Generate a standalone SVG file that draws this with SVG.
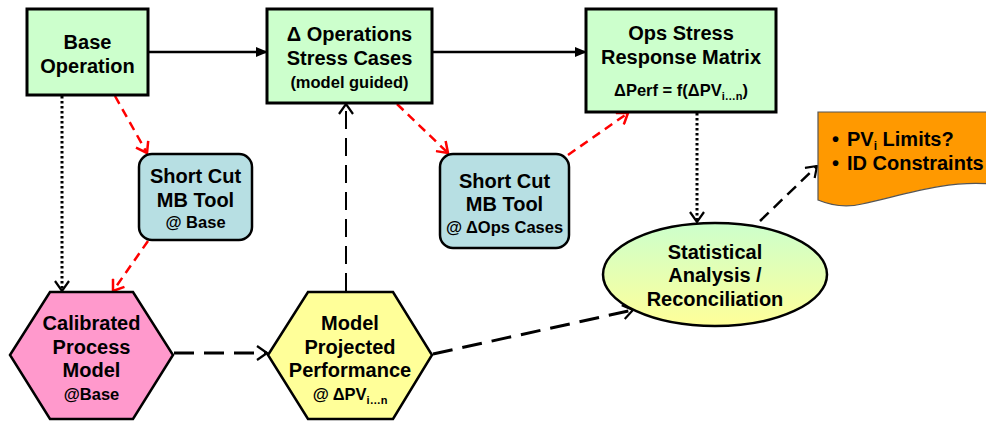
<svg xmlns="http://www.w3.org/2000/svg" width="986" height="423" viewBox="0 0 986 423">
<style>
text{font-family:"Liberation Sans",Arial,sans-serif;font-weight:bold;fill:#000;text-anchor:middle}
.m{font-size:20px}
.s{font-size:16.5px}
.box{fill:#ccffcc;stroke:#000;stroke-width:3}
.sc{fill:#b7dfe3;stroke:#000;stroke-width:2.5}
.hex{stroke:#000;stroke-width:2.5}
.solid{stroke:#000;stroke-width:2.5;fill:none}
.dot{stroke:#000;stroke-width:3;fill:none;stroke-dasharray:2.5 2.5}
.red{stroke:#ff0000;stroke-width:2.5;fill:none;stroke-dasharray:9 6}
.dash{stroke:#000;stroke-width:3;fill:none;stroke-dasharray:20 10}
.dash2{stroke:#000;stroke-width:2;fill:none;stroke-dasharray:18 9}
.dash3{stroke:#000;stroke-width:2.5;fill:none;stroke-dasharray:12 7}
</style>
<defs>
<linearGradient id="eg" x1="0" y1="0" x2="0" y2="1">
<stop offset="0" stop-color="#ccffcc"/>
<stop offset="1" stop-color="#ffff99"/>
</linearGradient>
<marker id="fill" viewBox="0 0 12 10" refX="11" refY="5" markerWidth="12" markerHeight="10" markerUnits="userSpaceOnUse" orient="auto">
<path d="M0,0 L12,5 L0,10 Z" fill="#000"/>
</marker>
<marker id="open" viewBox="0 0 12 16" refX="11" refY="8" markerWidth="12" markerHeight="16" markerUnits="userSpaceOnUse" orient="auto">
<path d="M1,1 L11,8 L1,15" fill="none" stroke="#000" stroke-width="2.2"/>
</marker>
<marker id="openr" viewBox="0 0 12 16" refX="11" refY="8" markerWidth="12" markerHeight="16" markerUnits="userSpaceOnUse" orient="auto">
<path d="M1,1 L11,8 L1,15" fill="none" stroke="#ff0000" stroke-width="2.5"/>
</marker>
</defs>

<g id="connectors">
<line class="solid" x1="148" y1="52" x2="267" y2="52" marker-end="url(#fill)"/>
<line class="solid" x1="432" y1="52" x2="586" y2="52" marker-end="url(#fill)"/>
<line class="dot" x1="62" y1="96" x2="62" y2="291" marker-end="url(#open)"/>
<line class="dot" x1="697" y1="113" x2="697" y2="222" marker-end="url(#open)"/>
<line class="red" x1="115" y1="96" x2="147" y2="153" marker-end="url(#openr)"/>
<line class="red" x1="148" y1="241" x2="113" y2="291" marker-end="url(#openr)"/>
<line class="red" x1="397" y1="104" x2="448" y2="153" marker-end="url(#openr)"/>
<line class="red" x1="568" y1="155" x2="628" y2="113" marker-end="url(#openr)"/>
<line class="dash2" x1="346" y1="291" x2="346" y2="104" marker-end="url(#open)"/>
<line class="dash" x1="174" y1="353" x2="267" y2="353" marker-end="url(#open)"/>
<line class="dash" x1="433" y1="354" x2="633" y2="310" marker-end="url(#open)"/>
<line class="dash3" x1="760" y1="221" x2="817" y2="166" marker-end="url(#open)"/>
</g>

<g id="base-operation">
<rect class="box" x="27" y="9" width="121" height="86"/>
<text class="m" x="87.5" y="49">Base</text>
<text class="m" x="87.5" y="73">Operation</text>
</g>

<g id="ops-stress-cases">
<rect class="box" x="267" y="9" width="165" height="94"/>
<text class="m" x="349.5" y="41">Δ Operations</text>
<text class="m" x="349.5" y="65">Stress Cases</text>
<text class="s" x="349.5" y="88">(model guided)</text>
</g>

<g id="response-matrix">
<rect class="box" x="586" y="9" width="190" height="103"/>
<text class="m" x="681" y="40">Ops Stress</text>
<text class="m" x="681" y="64">Response Matrix</text>
<text class="s" x="681" y="96">ΔPerf = f(ΔPV<tspan font-size="11" dy="4">i…n</tspan><tspan dy="-4">)</tspan></text>
</g>

<g id="limits">
<path d="M818,112 H990 V184 C945,180 900,196 862,204 C845,208 830,205 818,200 Z" fill="#ff9900" stroke="#555" stroke-width="1.2"/>
<text class="m" x="832" y="146" style="text-anchor:start">•</text>
<text class="m" x="847" y="146" style="text-anchor:start">PV<tspan font-size="12" dy="4">i</tspan><tspan dy="-4"> Limits?</tspan></text>
<text class="m" x="832" y="170" style="text-anchor:start">•</text>
<text class="m" x="847" y="170" style="text-anchor:start">ID Constraints</text>
</g>

<g id="shortcut-base">
<rect class="sc" x="139" y="154" width="113" height="86" rx="13"/>
<text class="m" x="195.5" y="183">Short Cut</text>
<text class="m" x="195.5" y="207">MB Tool</text>
<text class="s" x="195.5" y="228">@ Base</text>
</g>

<g id="shortcut-ops">
<rect class="sc" x="440" y="154" width="129" height="94" rx="13"/>
<text class="m" x="504.5" y="188">Short Cut</text>
<text class="m" x="504.5" y="211">MB Tool</text>
<text class="s" x="504.5" y="233">@ ΔOps Cases</text>
</g>

<g id="calibrated-model">
<polygon class="hex" fill="#ff99cc" points="10,355 50,292 133,292 173,355 133,419 50,419"/>
<text class="m" x="91.5" y="330">Calibrated</text>
<text class="m" x="91.5" y="354">Process</text>
<text class="m" x="91.5" y="377">Model</text>
<text class="s" x="91.5" y="400">@Base</text>
</g>

<g id="projected-performance">
<polygon class="hex" fill="#ffff99" points="268,355 308,292 393,292 432,355 393,419 308,419"/>
<text class="m" x="350" y="330">Model</text>
<text class="m" x="350" y="354">Projected</text>
<text class="m" x="350" y="377">Performance</text>
<text class="s" x="350" y="400">@ ΔPV<tspan font-size="11" dy="4">i…n</tspan></text>
</g>

<g id="statistical-analysis">
<ellipse cx="715" cy="274.5" rx="112" ry="51.5" fill="url(#eg)" stroke="#000" stroke-width="2.5"/>
<text class="m" x="715" y="259">Statistical</text>
<text class="m" x="715" y="282">Analysis /</text>
<text class="m" x="715" y="306">Reconciliation</text>
</g>
</svg>
